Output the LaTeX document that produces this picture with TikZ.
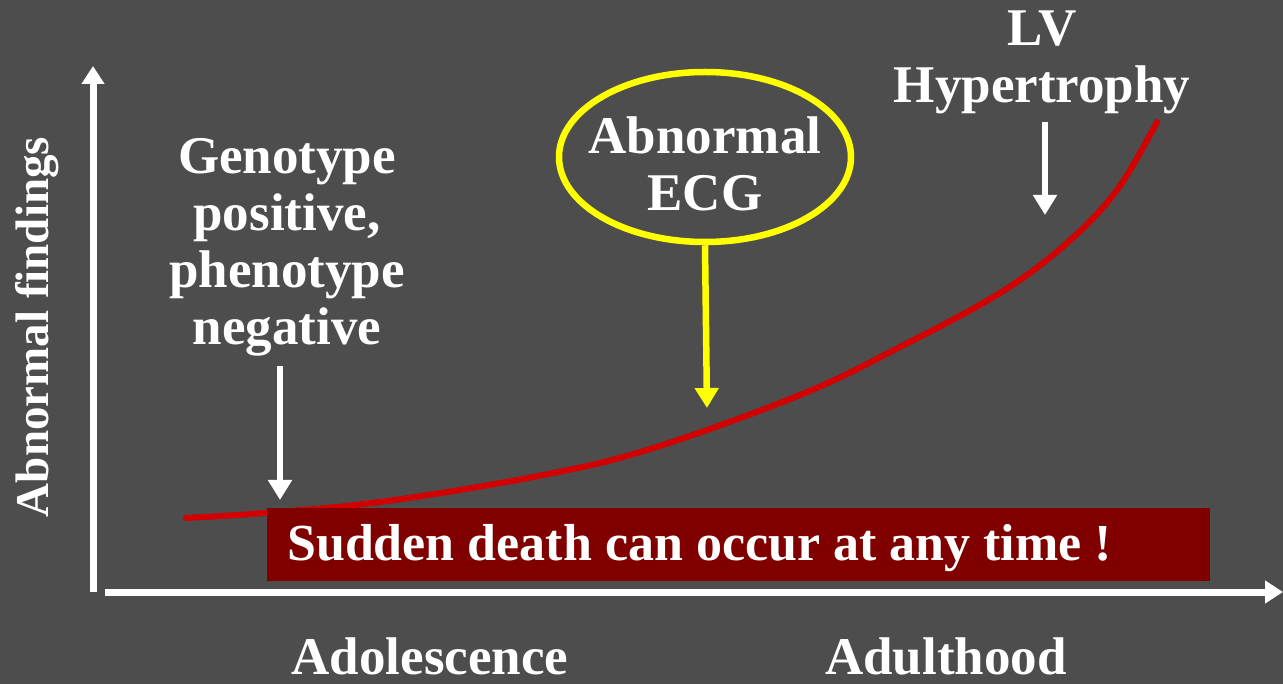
\documentclass[tikz,border=0pt]{standalone}
\usepackage{fontspec}
\setmainfont{Liberation Serif}
\usepackage{tikz}
\usetikzlibrary{arrows.meta, positioning, shapes.geometric}
\definecolor{slidegray}{RGB}{77, 77, 77}
\definecolor{curvered}{RGB}{210, 0, 0}
\definecolor{boxred}{RGB}{128, 0, 0}
\definecolor{ecgyellow}{RGB}{255, 255, 0}

\begin{document}
\begin{tikzpicture}[x=1pt, y=-1pt,
    lbl/.style={text=white, font=\fontsize{53}{57}\selectfont\bfseries, align=center, inner sep=0pt},
    pointer/.style={line width=6.5pt, -{Triangle[width=23pt, length=20pt]}}]
  \fill[slidegray] (0,0) rectangle (1283,684);
  \useasboundingbox (0,0) rectangle (1283,684);
  % axes
  \draw[white, line width=7pt, -{Triangle[width=22pt, length=18pt]}] (93,592) -- (93,66);
  \draw[white, line width=7pt, -{Triangle[width=22pt, length=18pt]}] (105,592) -- (1283,592);
  \node[lbl, font=\fontsize{47}{50}\selectfont\bfseries, rotate=90] (yaxis) at (37,327) {Abnormal findings};
  \node[lbl, anchor=base] (adol) at (430,674) {Adolescence};
  \node[lbl, anchor=base] (adult) at (946,674) {Adulthood};
  % disease curve
  \draw[curvered, line width=6pt, line cap=round] plot[smooth, tension=0.6] coordinates
    {(186,518) (265,513) (380,502) (533,477) (647,450) (800,395)
     (900,347) (1000,293) (1067,243) (1117,190) (1157,122)};
  \node[fill=boxred, minimum width=943pt, minimum height=73pt, inner sep=0pt] (sudden) at (738.5,544) {};
  \node[lbl, font=\fontsize{52}{57}\selectfont\bfseries, anchor=west] (suddentxt) at (287,548) {Sudden death can occur at any time !};
  % labels and pointers
  \node[lbl] (geno) at (287,247) {Genotype\\positive,\\phenotype\\negative};
  \coordinate (genotip) at (280,500);
  \draw[white, pointer, shorten <=10pt] (geno.south -| genotip) -- (genotip);
  \node[ellipse, draw=ecgyellow, line width=6.5pt, minimum width=292pt, minimum height=170pt] (ecg) at (705,157) {};
  \node[lbl] (ecgtxt) at ([yshift=-7pt]ecg.center) {Abnormal\\ECG};
  \coordinate (ecgtip) at (707,408);
  \draw[ecgyellow, pointer] (ecg.south) -- (ecgtip);
  \node[lbl] (lvh) at (1042,62) {LV\\Hypertrophy};
  \coordinate (lvhtip) at (1045,215);
  \draw[white, pointer, shorten <=8pt] (lvh.south -| lvhtip) -- (lvhtip);
\end{tikzpicture}
\end{document}
